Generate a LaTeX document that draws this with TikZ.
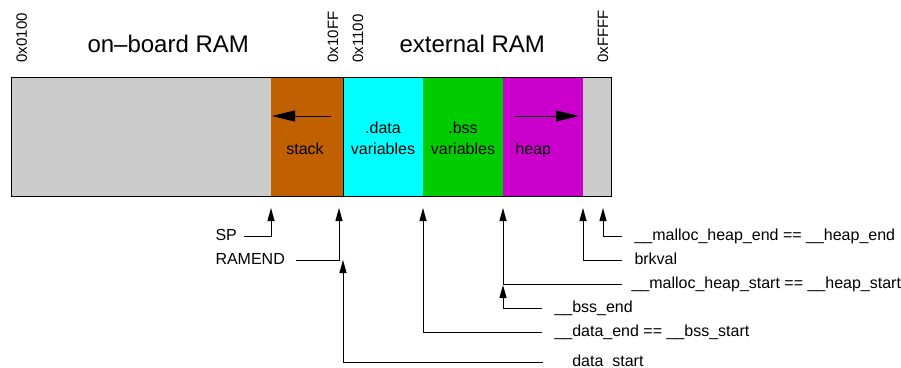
\documentclass[tikz,border=0pt]{standalone}
\usepackage{fontspec}
\setmainfont{Liberation Sans}
\usetikzlibrary{arrows.meta,positioning,calc}
\definecolor{ramgray}{RGB}{204,204,204}
\definecolor{stackbrown}{RGB}{192,96,0}
\definecolor{datacyan}{RGB}{0,255,255}
\definecolor{bssgreen}{RGB}{0,204,0}
\definecolor{heapmagenta}{RGB}{204,0,204}

\begin{document}
\begin{tikzpicture}[x=1pt, y=-1pt, line width=1pt,
  ptr/.style={-{Triangle[length=13pt,width=7pt]}},
  growarrow/.style={-{Triangle[length=23pt,width=11pt]}},
  lbl/.style={inner sep=0pt, text height=8pt, text depth=0pt, font=\fontsize{16}{18}\selectfont},
  seg/.style={inner sep=0pt, anchor=base, font=\fontsize{16}{18}\selectfont},
  addr/.style={rotate=90, anchor=base west, inner sep=0pt, font=\fontsize{15}{17}\selectfont},
  ramtitle/.style={anchor=base west, inner sep=0pt, font=\fontsize{24}{28}\selectfont}]
  \useasboundingbox (0,0) rectangle (901,367);
  % titles and addresses
  \node[ramtitle] (onboard) at (87,52.7) {on–board RAM};
  \node[ramtitle] (external) at (399,52.7) {external RAM};
  \foreach \n/\x/\t in {a1/27/0x0100, a2/338/0x10FF, a3/363/0x1100, a4/608/0xFFFF}
    \node[addr] (\n) at (\x,63) {\t};
  % memory segments
  \foreach \a/\b/\c in {11/271/ramgray, 271/343/stackbrown, 343/423/datacyan,
                        423/503/bssgreen, 503/583/heapmagenta, 583/611/ramgray}
    \fill[\c] (\a,77) rectangle (\b,196);
  \draw (11,77) rectangle (611,196);
  \draw (343,77) -- (343,196);
  \node[seg] (stack) at (305,154.5) {stack};
  \node[seg] (data1) at (383,133) {.data};
  \node[seg] (data2) at (383,154.5) {variables};
  \node[seg] (bss1) at (463,133) {.bss};
  \node[seg] (bss2) at (463,154.5) {variables};
  \node[seg, anchor=base west] (heap) at (515,154.5) {heap};
  \coordinate (stackS) at (331,116); \coordinate (stackE) at (272,116);
  \coordinate (heapS) at (515,116);  \coordinate (heapE) at (579,116);
  \draw[growarrow] (stackS) -- (stackE);
  \draw[growarrow] (heapS) -- (heapE);
  % pointers
  \coordinate (spT) at (271,208);
  \coordinate (ramendT) at (339,208);
  \coordinate (dstartT) at (343,260);
  \coordinate (dendT) at (423,208);
  \coordinate (hstartT) at (503,208);
  \coordinate (bssendT) at (503,285);
  \coordinate (brkT) at (583,208);
  \coordinate (hendT) at (603,208);
  \node[lbl, anchor=west] (sp) at (215,236) {SP};
  \node[lbl, anchor=west] (ramend) at (215,260) {RAMEND};
  \node[lbl, anchor=west] (hend) at (634,236) {\_\_malloc\_heap\_end == \_\_heap\_end};
  \node[lbl, anchor=west] (brk) at (634,260) {brkval};
  \node[lbl, anchor=west] (hstart) at (631,284) {\_\_malloc\_heap\_start == \_\_heap\_start};
  \node[lbl, anchor=west] (bssend) at (554,308) {\_\_bss\_end};
  \node[lbl, anchor=west] (dend) at (554,332) {\_\_data\_end == \_\_bss\_start};
  \node[lbl, anchor=west] (dstart) at (554,362) {\_\_data\_start};
  \draw[ptr] (sp.east) ++(7,0) -| (spT);
  \draw[ptr] (ramend.east) ++(11,0) -| (ramendT);
  \draw[ptr] (hend.west) ++(-12,0) -| (hendT);
  \draw[ptr] (brk.west) ++(-12,0) -| (brkT);
  \draw[ptr] (hstart.west) ++(-9,0) -| (hstartT);
  \draw[ptr] (bssend.west) ++(-12,0) -| (bssendT);
  \draw[ptr] (dend.west) ++(-12,0) -| (dendT);
  \draw[ptr] (dstart.west) ++(-11,0) -| (dstartT);
\end{tikzpicture}
\end{document}
